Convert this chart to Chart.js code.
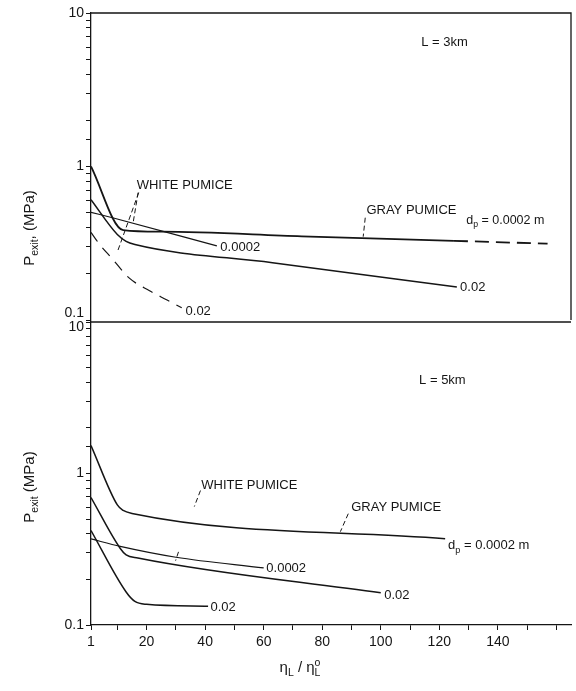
<!DOCTYPE html>
<html>
<head>
<meta charset="utf-8">
<script src="https://cdn.jsdelivr.net/npm/chart.js@4.4.1/dist/chart.umd.min.js"></script>
<style>
  body { margin: 0; background: #fff; }
  #wrap { position: relative; width: 576px; height: 691px; }
  #wrap canvas { position: absolute; left: 0; top: 0; }
</style>
</head>
<body>
<div id="wrap">
  <canvas id="upper" width="576" height="691"></canvas>
  <canvas id="lower" width="576" height="691"></canvas>
</div>
<script>
// x: viscosity ratio, y: exit pressure (MPa), log scale
const xTicks = [1, 10, 20, 30, 40, 50, 60, 70, 80, 90, 100, 110, 120, 130, 140, 150, 160];
const xLabelled = [1, 20, 40, 60, 80, 100, 120, 140];
const yLabelled = [0.1, 1, 10];

// L = 3 km
const x3GrayFine = [1, 12, 25, 73, 125, 157];
const p3GrayFine = [1.0, 0.385, 0.376, 0.351, 0.328, 0.314];
const x3GrayCoarse = [1, 10, 13, 16, 63, 126];
const p3GrayCoarse = [0.607, 0.36, 0.325, 0.31, 0.236, 0.164];
const x3WhiteFine = [1, 9, 44];
const p3WhiteFine = [0.503, 0.46, 0.304];
const x3WhiteCoarse = [1, 4, 8, 14, 21, 27, 32];
const p3WhiteCoarse = [0.372, 0.31, 0.254, 0.188, 0.155, 0.135, 0.12];

// L = 5 km
const x5GrayFine = [1, 10, 12, 15, 122];
const p5GrayFine = [1.53, 0.62, 0.57, 0.545, 0.371];
const x5GrayCoarse = [1, 11, 13, 17, 100];
const p5GrayCoarse = [0.694, 0.32, 0.29, 0.277, 0.163];
const x5WhiteFine = [1, 11, 30, 60];
const p5WhiteFine = [0.37, 0.33, 0.28, 0.238];
const x5WhiteCoarse = [1, 13, 16, 20, 41];
const p5WhiteCoarse = [0.42, 0.165, 0.143, 0.137, 0.133];

const ink = '#151515';
const family = '"Liberation Sans", Arial, Helvetica, sans-serif';

function pts(xs, ys) {
    return xs.map((x, i) => ({ x: x, y: ys[i] }));
}

function curve(xs, ys, extra) {
    return Object.assign({
        data: pts(xs, ys),
        borderColor: ink,
        borderWidth: 1.5,
        pointRadius: 0,
        cubicInterpolationMode: 'monotone',
        fill: false
    }, extra || {});
}

// text with sub/superscript pieces
function richWidth(ctx, parts, size) {
    let w = 0, last = 0;
    parts.forEach(p => {
        const s = (p.sub || p.sup) ? size * 0.7 : size;
        ctx.font = s + 'px ' + family;
        const pw = ctx.measureText(p.t).width;
        if (p.over) { w += Math.max(0, pw - last); } else { w += pw; }
        last = pw;
    });
    return w;
}

function drawRich(ctx, parts, x, y, size) {
    let cx = x, last = 0;
    parts.forEach(p => {
        const s = (p.sub || p.sup) ? size * 0.7 : size;
        ctx.font = s + 'px ' + family;
        const dy = p.sub ? size * 0.35 : (p.sup ? -size * 0.35 : 0);
        if (p.over) cx -= last;
        ctx.fillText(p.t, cx, y + dy);
        last = ctx.measureText(p.t).width;
        cx += last;
    });
}

const dpLabel = [{ t: 'd' }, { t: 'p', sub: true }, { t: ' = 0.0002 m' }];

const notes3 = [
    { parts: [{ t: 'L = 3km' }], x: 113.8, y: 6.46 },
    { parts: [{ t: 'WHITE PUMICE' }], x: 16.6, y: 0.751 },
    { parts: [{ t: 'GRAY PUMICE' }], x: 95.1, y: 0.516 },
    { parts: dpLabel, x: 129.2, y: 0.444, size: 12.5 },
    { parts: [{ t: '0.0002' }], x: 45.2, y: 0.296 },
    { parts: [{ t: '0.02' }], x: 127.1, y: 0.162 },
    { parts: [{ t: '0.02' }], x: 33.3, y: 0.113 }
];
const leaders3 = [
    [17.3, 0.676, 9.9, 0.274],
    [17.1, 0.676, 15.4, 0.431],
    [94.7, 0.464, 94.0, 0.349]
];

const notes5 = [
    { parts: [{ t: 'L = 5km' }], x: 113.1, y: 4.13 },
    { parts: [{ t: 'WHITE PUMICE' }], x: 38.7, y: 0.833 },
    { parts: [{ t: 'GRAY PUMICE' }], x: 89.9, y: 0.596 },
    { parts: dpLabel, x: 123, y: 0.334 },
    { parts: [{ t: '0.0002' }], x: 60.9, y: 0.238 },
    { parts: [{ t: '0.02' }], x: 101.2, y: 0.156 },
    { parts: [{ t: '0.02' }], x: 41.8, y: 0.13 }
];
const leaders5 = [
    [38.4, 0.772, 36.3, 0.605],
    [88.9, 0.543, 86.2, 0.413],
    [30.9, 0.304, 29.9, 0.266]
];

function panelPlugin(cfg) {
    return {
        id: 'panelText',
        afterDraw(chart) {
            const ctx = chart.ctx;
            const xs = chart.scales.x, ys = chart.scales.y;
            const a = chart.chartArea;
            ctx.save();
            ctx.strokeStyle = ink;
            ctx.lineWidth = 1.3;
            ctx.beginPath();
            ctx.moveTo(a.left, a.top);
            ctx.lineTo(a.right, a.top);
            if (cfg.rightEdge) ctx.lineTo(a.right, a.bottom);
            ctx.stroke();

            // leader lines from labels to curves
            ctx.lineWidth = 1;
            ctx.setLineDash([5, 3]);
            cfg.leaders.forEach(l => {
                ctx.beginPath();
                ctx.moveTo(xs.getPixelForValue(l[0]), ys.getPixelForValue(l[1]));
                ctx.lineTo(xs.getPixelForValue(l[2]), ys.getPixelForValue(l[3]));
                ctx.stroke();
            });
            ctx.setLineDash([]);

            ctx.fillStyle = ink;
            ctx.textBaseline = 'middle';
            ctx.textAlign = 'left';
            cfg.notes.forEach(n => {
                drawRich(ctx, n.parts, xs.getPixelForValue(n.x), ys.getPixelForValue(n.y), n.size || 13);
            });

            // decade label at the shared panel edge, nudged inside its own panel
            ctx.textAlign = 'right';
            ctx.font = '14px ' + family;
            const e = cfg.edgeLabel;
            const ey = e.atTop ? a.top + 5 : a.bottom - 7;
            ctx.fillText(e.text, a.left - 7, ey);

            // rotated y title
            ctx.textAlign = 'left';
            const w = richWidth(ctx, cfg.yTitle, 15);
            ctx.translate(30, cfg.titleY);
            ctx.rotate(-Math.PI / 2);
            drawRich(ctx, cfg.yTitle, -w / 2, 0, 15);
            ctx.restore();

            if (cfg.xTitle) {
                ctx.save();
                ctx.fillStyle = ink;
                ctx.textBaseline = 'middle';
                ctx.textAlign = 'left';
                const xw = richWidth(ctx, cfg.xTitle, 15);
                drawRich(ctx, cfg.xTitle, 300 - xw / 2, 668, 15);
                ctx.restore();
            }
        }
    };
}

function yAxis(skipLabel) {
    return {
        type: 'logarithmic',
        min: 0.1,
        max: 10,
        afterFit: s => { s.width = 91; },
        ticks: {
            autoSkip: false,
            color: ink,
            padding: 2,
            font: { family: family, size: 14 },
            callback: v => (Math.abs(v - skipLabel) > 1e-9 &&
                yLabelled.some(t => Math.abs(v - t) < 1e-9)) ? String(v) : ''
        },
        grid: { drawOnChartArea: false, tickLength: 5, color: ink, lineWidth: 1 },
        border: { color: ink, width: 1.3 }
    };
}

function xAxis(show) {
    return {
        type: 'linear',
        min: 1,
        max: 165,
        display: show,
        afterBuildTicks: s => { s.ticks = xTicks.map(v => ({ value: v })); },
        afterFit: s => { if (show) s.height = 66; },
        ticks: {
            autoSkip: false,
            maxRotation: 0,
            color: ink,
            padding: 4,
            font: { family: family, size: 14 },
            callback: v => xLabelled.includes(v) ? String(v) : ''
        },
        grid: { drawOnChartArea: false, tickLength: 5, color: ink, lineWidth: 1 },
        border: { color: ink, width: 1.3 }
    };
}

const baseOptions = (padding, show, skipLabel) => ({
    responsive: false,
    animation: false,
    layout: { padding: padding },
    scales: { x: xAxis(show), y: yAxis(skipLabel) },
    plugins: { legend: { display: false }, tooltip: { enabled: false } }
});

// upper panel, L = 3 km; last stretch of the fine gray curve is broken
new Chart(document.getElementById('upper'), {
    type: 'line',
    data: {
        datasets: [
            curve(x3GrayFine, p3GrayFine, {
                borderWidth: 1.8,
                segment: { borderDash: c => c.p0.parsed.x >= 125 ? [14, 7] : undefined }
            }),
            curve(x3GrayCoarse, p3GrayCoarse),
            curve(x3WhiteFine, p3WhiteFine, { borderWidth: 1.2 }),
            curve(x3WhiteCoarse, p3WhiteCoarse, { borderWidth: 1.2, borderDash: [11, 8] })
        ]
    },
    options: baseOptions({ top: 13, right: 5, bottom: 371, left: 0 }, false, 0.1),
    plugins: [panelPlugin({
        notes: notes3,
        leaders: leaders3,
        yTitle: [{ t: 'P' }, { t: 'exit', sub: true }, { t: ', (MPa)' }],
        titleY: 228,
        rightEdge: true,
        edgeLabel: { text: '0.1', atTop: false },
        xTitle: null
    })]
});

// lower panel, L = 5 km
new Chart(document.getElementById('lower'), {
    type: 'line',
    data: {
        datasets: [
            curve(x5GrayFine, p5GrayFine),
            curve(x5GrayCoarse, p5GrayCoarse),
            curve(x5WhiteFine, p5WhiteFine, { borderWidth: 1.2 }),
            curve(x5WhiteCoarse, p5WhiteCoarse)
        ]
    },
    options: baseOptions({ top: 322, right: 5, bottom: 0, left: 0 }, true, 10),
    plugins: [panelPlugin({
        notes: notes5,
        leaders: leaders5,
        yTitle: [{ t: 'P' }, { t: 'exit', sub: true }, { t: ' (MPa)' }],
        titleY: 487,
        rightEdge: false,
        edgeLabel: { text: '10', atTop: true },
        xTitle: [{ t: 'η' }, { t: 'L', sub: true }, { t: ' / ' }, { t: 'η' }, { t: 'L', sub: true }, { t: 'o', sup: true, over: true }]
    })]
});
</script>
</body>
</html>
